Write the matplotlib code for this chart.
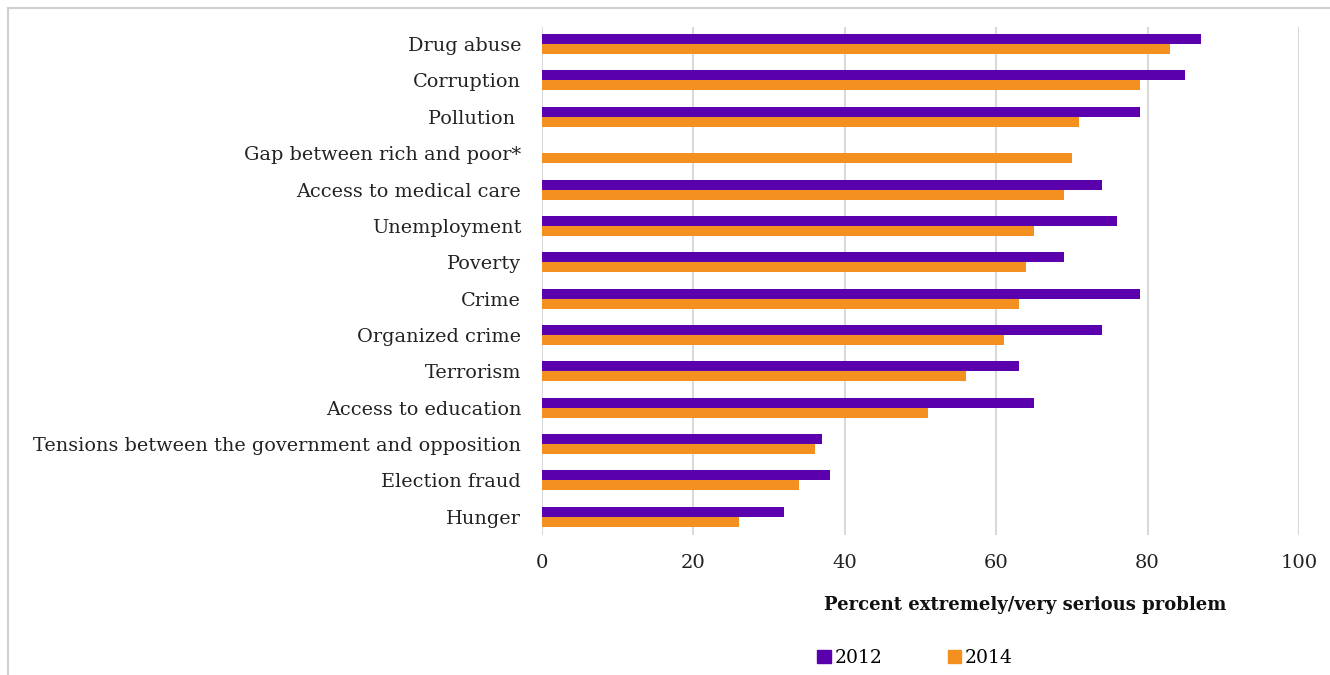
import matplotlib
matplotlib.use("Agg")
import matplotlib.pyplot as plt
import numpy as np
from matplotlib.lines import Line2D
from matplotlib.patches import Patch

categories = ["Drug abuse", "Corruption", "Pollution ", "Gap between rich and poor*",
              "Access to medical care", "Unemployment", "Poverty", "Crime",
              "Organized crime", "Terrorism", "Access to education",
              "Tensions between the government and opposition", "Election fraud", "Hunger"]
vals_2012 = [87, 85, 79, np.nan, 74, 76, 69, 79, 74, 63, 65, 37, 38, 32]
vals_2014 = [83, 79, 71, 70, 69, 65, 64, 63, 61, 56, 51, 36, 34, 26]
xticks = [0, 20, 40, 60, 80, 100]

PURPLE = "#5b00ad"
ORANGE = "#f39020"
GRID = "#d9d9d9"

plt.rcParams["font.family"] = ["DejaVu Serif"]

fig = plt.figure(figsize=(13.3, 6.75), dpi=100)
ax = fig.add_axes([542 / 1330, 1 - 535 / 675, (1299 - 542) / 1330, (535 - 27) / 675])

y = np.arange(len(categories))
h = 0.275
ax.barh(y - h / 2, vals_2012, height=h, color=PURPLE, label="2012", zorder=3)
ax.barh(y + h / 2, vals_2014, height=h, color=ORANGE, label="2014", zorder=3)

ax.set_xlim(0, 100)
ax.set_ylim(13.5, -0.47)
ax.set_xticks(xticks)
ax.set_xticklabels([str(t) for t in xticks], fontsize=14, color="#222222")
ax.set_yticks(y)
ax.set_yticklabels(categories, fontsize=13.9, color="#222222")
ax.tick_params(length=0, pad=15, axis="y")
ax.tick_params(length=0, pad=14, axis="x")
ax.xaxis.grid(True, color=GRID, lw=1.5, zorder=0)
for s in ax.spines.values():
    s.set_visible(False)

fig.text(1025 / 1330, 1 - 605 / 675, "Percent extremely/very serious problem",
         ha="center", va="center", fontsize=13, fontweight="bold", color="#111111")

handles = [Patch(color=PURPLE, label="2012"), Patch(color=ORANGE, label="2014")]
fig.legend(handles=handles, loc="center", bbox_to_anchor=(915 / 1330, 1 - 658 / 675),
           ncol=2, frameon=False, fontsize=13.5, handlelength=0.7, handleheight=0.7,
           handletextpad=0.2, columnspacing=3.5)

# light frame: left and top edges of the chart box
fx, fy = 7.5 / 1330, 1 - 7.5 / 675
fig.add_artist(Line2D([fx, fx], [0, fy], transform=fig.transFigure, color="#d0d0d0", lw=1.5))
fig.add_artist(Line2D([fx, 1], [fy, fy], transform=fig.transFigure, color="#d0d0d0", lw=1.5))

fig.savefig("out.png", dpi=100)
